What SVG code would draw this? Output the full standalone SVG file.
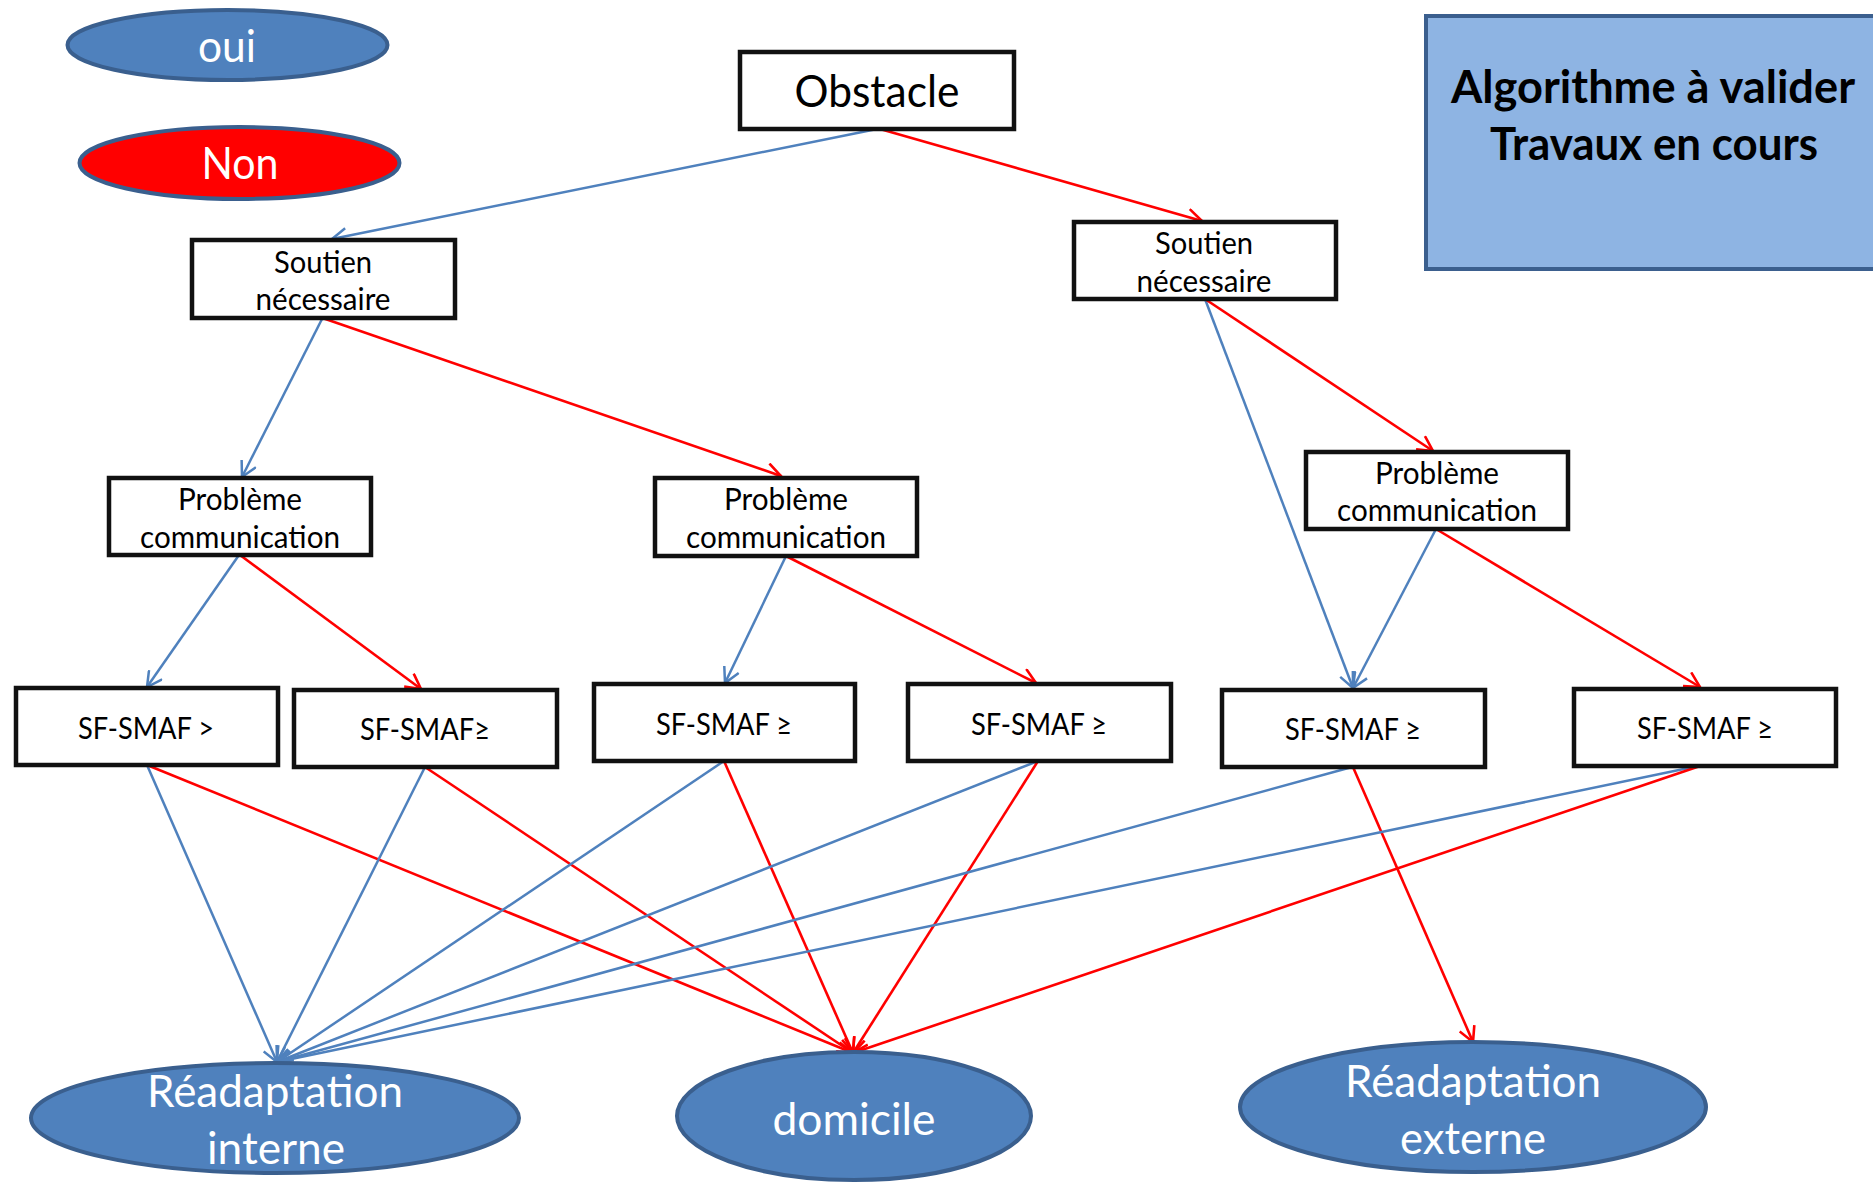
<svg xmlns="http://www.w3.org/2000/svg" width="1873" height="1182" viewBox="0 0 1873 1182">
<style>
.box{fill:#fff;stroke:#111;stroke-width:4.5}
.ell{fill:#4F81BD;stroke:#3A5F8E;stroke-width:4}
.t{font-family:Lato,"Open Sans","Liberation Sans",sans-serif;text-anchor:middle;fill:#000}
.s{font-size:30px}
.w{fill:#fff;font-size:44px}
.b{fill:#000;font-size:45px;font-weight:bold}
.bl{stroke:#4F81BD;stroke-width:2.5;fill:none}
.rd{stroke:#FF0000;stroke-width:2.6;fill:none}
</style>
<defs>
<marker id="ab" viewBox="0 0 18 18" refX="16" refY="9" markerWidth="18" markerHeight="18" markerUnits="userSpaceOnUse" orient="auto"><path d="M1,1 L16,9 L1,17" fill="none" stroke="#4F81BD" stroke-width="2.5"/></marker>
<marker id="ar" viewBox="0 0 18 18" refX="16" refY="9" markerWidth="18" markerHeight="18" markerUnits="userSpaceOnUse" orient="auto"><path d="M1,1 L16,9 L1,17" fill="none" stroke="#FF0000" stroke-width="2.6"/></marker>
</defs>
<rect width="1873" height="1182" fill="#fff"/>

<g id="legend-oui"><ellipse class="ell" cx="227.5" cy="45" rx="160" ry="35"/><text class="t w" x="227" y="62" textLength="58" lengthAdjust="spacingAndGlyphs">oui</text></g>
<g id="legend-non"><ellipse class="ell" cx="239.5" cy="163" rx="160" ry="36" style="fill:#FF0000"/><text class="t w" x="240" y="179" textLength="77" lengthAdjust="spacingAndGlyphs">Non</text></g>
<g id="note"><rect x="1426" y="16" width="460" height="253" fill="#8EB4E3" stroke="#3B5F8E" stroke-width="4"/>
<text class="t b" x="1653" y="103" textLength="404" lengthAdjust="spacingAndGlyphs">Algorithme à valider</text>
<text class="t b" x="1654" y="160" textLength="328" lengthAdjust="spacingAndGlyphs">Travaux en cours</text></g>

<g id="connectors">
<line class="bl" x1="877" y1="129" x2="332" y2="239" marker-end="url(#ab)"/>
<line class="rd" x1="880" y1="129" x2="1202" y2="221" marker-end="url(#ar)"/>
<line class="bl" x1="322.5" y1="318" x2="242" y2="477" marker-end="url(#ab)"/>
<line class="rd" x1="322.5" y1="318" x2="781" y2="476" marker-end="url(#ar)"/>
<line class="bl" x1="1205" y1="299" x2="1353" y2="688" marker-end="url(#ab)"/>
<line class="rd" x1="1205" y1="299" x2="1433" y2="451" marker-end="url(#ar)"/>
<line class="bl" x1="239" y1="555" x2="147" y2="687" marker-end="url(#ab)"/>
<line class="rd" x1="240" y1="555" x2="421" y2="689" marker-end="url(#ar)"/>
<line class="bl" x1="786" y1="556" x2="725" y2="683" marker-end="url(#ab)"/>
<line class="rd" x1="786" y1="556" x2="1036" y2="683" marker-end="url(#ar)"/>
<line class="bl" x1="1436" y1="529" x2="1353" y2="688" marker-end="url(#ab)"/>
<line class="rd" x1="1436" y1="529" x2="1700" y2="687" marker-end="url(#ar)"/>
<line class="bl" x1="147" y1="765" x2="277" y2="1062" marker-end="url(#ab)"/>
<line class="rd" x1="147" y1="765" x2="853" y2="1053" marker-end="url(#ar)"/>
<line class="bl" x1="425" y1="767" x2="277" y2="1062" marker-end="url(#ab)"/>
<line class="rd" x1="425" y1="767" x2="853" y2="1053" marker-end="url(#ar)"/>
<line class="bl" x1="724" y1="761" x2="277" y2="1062" marker-end="url(#ab)"/>
<line class="rd" x1="724" y1="761" x2="853" y2="1053" marker-end="url(#ar)"/>
<line class="bl" x1="1038" y1="761" x2="277" y2="1062" marker-end="url(#ab)"/>
<line class="rd" x1="1038" y1="761" x2="853" y2="1053" marker-end="url(#ar)"/>
<line class="bl" x1="1352" y1="767" x2="277" y2="1062" marker-end="url(#ab)"/>
<line class="rd" x1="1353" y1="767" x2="1473" y2="1042" marker-end="url(#ar)"/>
<line class="bl" x1="1703" y1="765" x2="277" y2="1062" marker-end="url(#ab)"/>
<line class="rd" x1="1703" y1="765" x2="853" y2="1053" marker-end="url(#ar)"/>
</g>

<g id="obstacle"><rect class="box" x="740" y="52" width="274" height="77"/><text class="t" style="font-size:44px" x="877" y="107" textLength="165" lengthAdjust="spacingAndGlyphs">Obstacle</text></g>
<g id="soutien-oui"><rect class="box" x="192" y="240" width="263" height="78"/><text class="t s" x="323" y="273" textLength="98" lengthAdjust="spacingAndGlyphs">Soutien</text><text class="t s" x="323" y="310" textLength="135" lengthAdjust="spacingAndGlyphs">nécessaire</text></g>
<g id="soutien-non"><rect class="box" x="1074" y="222" width="262" height="77"/><text class="t s" x="1204" y="254" textLength="98" lengthAdjust="spacingAndGlyphs">Soutien</text><text class="t s" x="1204" y="292" textLength="135" lengthAdjust="spacingAndGlyphs">nécessaire</text></g>
<g id="pc1"><rect class="box" x="109" y="478" width="262" height="77"/><text class="t s" x="240" y="510" textLength="124" lengthAdjust="spacingAndGlyphs">Problème</text><text class="t s" x="240" y="548" textLength="200" lengthAdjust="spacingAndGlyphs">communication</text></g>
<g id="pc2"><rect class="box" x="655" y="478" width="262" height="78"/><text class="t s" x="786" y="510" textLength="124" lengthAdjust="spacingAndGlyphs">Problème</text><text class="t s" x="786" y="548" textLength="200" lengthAdjust="spacingAndGlyphs">communication</text></g>
<g id="pc3"><rect class="box" x="1306" y="452" width="262" height="77"/><text class="t s" x="1437" y="484" textLength="124" lengthAdjust="spacingAndGlyphs">Problème</text><text class="t s" x="1437" y="521" textLength="200" lengthAdjust="spacingAndGlyphs">communication</text></g>
<g id="sf1"><rect class="box" x="16" y="688" width="262" height="77"/><text class="t s" x="146" y="739" textLength="136" lengthAdjust="spacingAndGlyphs">SF-SMAF &gt;</text></g>
<g id="sf2"><rect class="box" x="294" y="690" width="263" height="77"/><text class="t s" x="425" y="740" textLength="130" lengthAdjust="spacingAndGlyphs">SF-SMAF≥</text></g>
<g id="sf3"><rect class="box" x="594" y="684" width="261" height="77"/><text class="t s" x="724" y="735" textLength="136" lengthAdjust="spacingAndGlyphs">SF-SMAF ≥</text></g>
<g id="sf4"><rect class="box" x="908" y="684" width="263" height="77"/><text class="t s" x="1039" y="735" textLength="136" lengthAdjust="spacingAndGlyphs">SF-SMAF ≥</text></g>
<g id="sf5"><rect class="box" x="1222" y="690" width="263" height="77"/><text class="t s" x="1353" y="740" textLength="136" lengthAdjust="spacingAndGlyphs">SF-SMAF ≥</text></g>
<g id="sf6"><rect class="box" x="1574" y="689" width="262" height="77"/><text class="t s" x="1705" y="739" textLength="136" lengthAdjust="spacingAndGlyphs">SF-SMAF ≥</text></g>

<g id="readaptation-interne"><ellipse class="ell" cx="275" cy="1118" rx="244" ry="55"/><text class="t w" x="275" y="1107" textLength="256" lengthAdjust="spacingAndGlyphs">Réadaptation</text><text class="t w" x="276" y="1164" textLength="138" lengthAdjust="spacingAndGlyphs">interne</text></g>
<g id="domicile"><ellipse class="ell" cx="854" cy="1116" rx="177" ry="64"/><text class="t w" x="854" y="1135" textLength="163" lengthAdjust="spacingAndGlyphs">domicile</text></g>
<g id="readaptation-externe"><ellipse class="ell" cx="1473" cy="1107" rx="233" ry="65"/><text class="t w" x="1473" y="1097" textLength="256" lengthAdjust="spacingAndGlyphs">Réadaptation</text><text class="t w" x="1473" y="1154" textLength="146" lengthAdjust="spacingAndGlyphs">externe</text></g>
</svg>
